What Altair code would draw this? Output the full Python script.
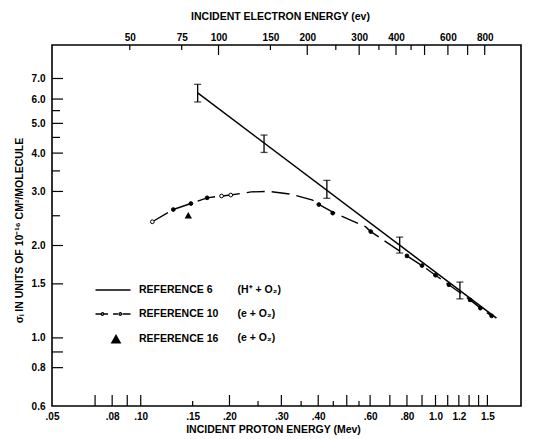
import altair as alt
import pandas as pd

# ---------------- data ----------------
# Reference 6 (H+ + O2): measured points with error bars, and fitted straight line
ref6_energy = [0.156, 0.262, 0.428, 0.756, 1.21]
ref6_sigma = [6.28, 4.31, 3.05, 2.01, 1.43]
ref6_low = [5.87, 4.02, 2.85, 1.89, 1.34]
ref6_high = [6.70, 4.58, 3.26, 2.13, 1.52]
ref6_line_energy = [0.156, 1.61]
ref6_line_sigma = [6.28, 1.16]

# Reference 10 (e + O2): dashed curve and its plotted points
ref10_curve_energy = [0.1095, 0.129, 0.148, 0.168, 0.188, 0.202, 0.237, 0.273, 0.324,
                      0.383, 0.402, 0.448, 0.58, 0.603, 0.80, 0.90, 1.0, 1.11, 1.31, 1.42, 1.55]
ref10_curve_sigma = [2.39, 2.62, 2.74, 2.86, 2.90, 2.92, 2.99, 3.00, 2.94,
                     2.81, 2.72, 2.57, 2.30, 2.22, 1.85, 1.72, 1.60, 1.49, 1.33, 1.25, 1.18]
ref10_pt_energy = [0.1095, 0.129, 0.148, 0.168, 0.188, 0.202, 0.402, 0.448, 0.603,
                   0.80, 0.90, 1.0, 1.11, 1.31, 1.42, 1.55]
ref10_pt_sigma = [2.39, 2.62, 2.74, 2.86, 2.90, 2.92, 2.72, 2.55, 2.22,
                  1.85, 1.72, 1.60, 1.49, 1.33, 1.25, 1.18]
ref10_pt_open = [True, False, False, False, True, True, False, False, False,
                 False, False, False, False, False, False, False]

# Reference 16 (e + O2)
ref16_energy = [0.145]
ref16_sigma = [2.51]

# axes
x_labels = [0.05, 0.08, 0.10, 0.15, 0.20, 0.30, 0.40, 0.60, 0.80, 1.0, 1.2, 1.5]
x_long_ticks = [0.07, 0.08, 0.09, 0.10, 0.20, 0.30, 0.40, 0.50, 0.60, 0.70, 0.80, 0.90,
                1.0, 1.1, 1.2, 1.3, 1.4, 1.5]
x_short_ticks = [0.15, 0.25, 0.35, 0.45, 0.55]
top_labels = [50, 75, 100, 150, 200, 300, 400, 600, 800]
top_long_ticks = [100, 200, 300, 400, 500, 600, 700, 800]
top_short_ticks = [50, 75, 150, 250, 350, 450]
y_labels = [0.6, 0.8, 1.0, 1.5, 2.0, 3.0, 4.0, 5.0, 6.0, 7.0]
y_long_ticks = [0.8, 0.9, 1.0, 1.5, 2.0, 3.0, 4.0, 5.0, 6.0, 7.0]
y_short_ticks = [2.5, 3.5, 4.5, 5.5]

legend_refs = ["REFERENCE 6", "REFERENCE 10", "REFERENCE 16"]
legend_keys = ["a", "b", "c"]
legend_rxns = ["(H\u207a + O\u2082)", "(e + O\u2082)", "(e + O\u2082)"]

PROTON_ELECTRON_MASS_RATIO = 1836.0

# ---------------- chart ----------------
W, H = 469, 361
FONT = "Liberation Sans"
xdom = [0.05, 1.95]
ys = alt.Scale(type="log", domain=[0.6, 9.0])
y_axis = alt.Axis(
    values=y_labels, format=".1f", orient="left",
    title="\u03c3\u1d62 IN UNITS OF 10\u207b\u00b9\u2076 CM\u00b2/MOLECULE",
    labelPadding=7, titlePadding=7, titleY=185,
    labelFlush=False, labelOverlap=False)


def Y(field):
    return alt.Y(field, scale=ys, axis=y_axis)


def xs():
    return alt.Scale(type="log", domain=xdom)


def xe():
    return alt.Scale(type="log", domain=[d * 1e6 / PROTON_ELECTRON_MASS_RATIO for d in xdom])


def vals(v):
    return pd.DataFrame({"v": v})


x_lab_expr = ("datum.value < 0.995 ? slice(format(datum.value, '.2f'), 1) "
              ": format(datum.value, '.1f')")

bottom_long = alt.Chart(vals(x_long_ticks)).mark_rule(color="black", strokeWidth=1.2).encode(
    x=alt.X("v:Q", scale=xs(), axis=alt.Axis(
        values=x_labels, labelExpr=x_lab_expr, title="INCIDENT PROTON ENERGY (Mev)",
        orient="bottom", labelPadding=5, titlePadding=3, titleX=221,
        labelFlush=False, labelOverlap=False)),
    y=alt.value(H), y2=alt.value(H - 11))
bottom_short = alt.Chart(vals(x_short_ticks)).mark_rule(color="black", strokeWidth=1.2).encode(
    x=alt.X("v:Q", scale=xs(), axis=None), y=alt.value(H), y2=alt.value(H - 5))

left_long = alt.Chart(vals(y_long_ticks)).mark_rule(color="black", strokeWidth=1.2).encode(
    y=Y("v:Q"), x=alt.value(0), x2=alt.value(11))
left_short = alt.Chart(vals(y_short_ticks)).mark_rule(color="black", strokeWidth=1.2).encode(
    y=Y("v:Q"), x=alt.value(0), x2=alt.value(8))

ref6_line_df = pd.DataFrame({"E": ref6_line_energy, "s": ref6_line_sigma})
ref6_df = pd.DataFrame({"E": ref6_energy, "s": ref6_sigma, "lo": ref6_low, "hi": ref6_high})
caps_df = pd.DataFrame({"E": ref6_energy + ref6_energy, "s": ref6_low + ref6_high})

ref6_line = alt.Chart(ref6_line_df).mark_line(color="black", strokeWidth=1.5).encode(
    x=alt.X("E:Q", scale=xs(), axis=None), y=Y("s:Q"))
ref6_bars = alt.Chart(ref6_df).mark_rule(color="black", strokeWidth=1.3).encode(
    x=alt.X("E:Q", scale=xs(), axis=None), y=Y("lo:Q"), y2="hi:Q")
ref6_caps = alt.Chart(caps_df).mark_tick(color="black", orient="horizontal", size=7,
                                         thickness=1.3).encode(
    x=alt.X("E:Q", scale=xs(), axis=None), y=Y("s:Q"))

ref10_curve_df = pd.DataFrame({"E": ref10_curve_energy, "s": ref10_curve_sigma})
ref10_pt_df = pd.DataFrame({"E": ref10_pt_energy, "s": ref10_pt_sigma, "open": ref10_pt_open})
ref10_line = alt.Chart(ref10_curve_df).mark_line(color="black", strokeWidth=1.4,
                                                 strokeDash=[18, 7]).encode(
    x=alt.X("E:Q", scale=xs(), axis=None), y=Y("s:Q"))
ref10_pts = alt.Chart(ref10_pt_df).mark_point(shape="circle", filled=True, stroke="black",
                                              strokeWidth=1, size=14, opacity=1).encode(
    x=alt.X("E:Q", scale=xs(), axis=None), y=Y("s:Q"),
    fill=alt.condition("datum.open", alt.value("white"), alt.value("black")))

ref16_df = pd.DataFrame({"E": ref16_energy, "s": ref16_sigma})
ref16_pts = alt.Chart(ref16_df).mark_point(shape="triangle-up", filled=True, color="black",
                                           size=55, opacity=1).encode(
    x=alt.X("E:Q", scale=xs(), axis=None), y=Y("s:Q"))

# legend (real Vega-Lite legends, with custom stroked symbol paths)
sym_line = "M-3.5,0H3.5"
sym_dash = ("M-3.5,0H-2.4M-1.8,0H-1M0,0H1M1.9,0H3.5"
            "M-1.85,0A0.25,0.25,0,1,1,-2.35,0A0.25,0.25,0,1,1,-1.85,0"
            "M1.7,0A0.25,0.25,0,1,1,1.2,0A0.25,0.25,0,1,1,1.7,0")
sym_tri = ("M0.6,-0.75L1.45,0.75L-0.25,0.75Z"
           "M0.49,-0.55H0.71M0.35,-0.3H0.85M0.2,-0.05H1.0M0.06,0.2H1.14"
           "M-0.08,0.45H1.28M-0.22,0.7H1.42")
leg_df = pd.DataFrame({"ref": legend_refs, "key": legend_keys})
rxn_expr = ("datum.label == 'a' ? '" + legend_rxns[0] + "' : datum.label == 'b' ? '"
            + legend_rxns[1] + "' : '" + legend_rxns[2] + "'")
legend_layer = alt.Chart(leg_df).transform_filter("false").mark_point(
    filled=False, color="black", strokeWidth=1.3, opacity=1).encode(
    shape=alt.Shape("ref:N", scale=alt.Scale(domain=legend_refs,
                                             range=[sym_line, sym_dash, sym_tri]),
                    legend=alt.Legend(title=None, orient="none", legendX=55, legendY=239,
                                      symbolSize=100, labelOffset=20, rowPadding=12,
                                      symbolStrokeWidth=1.3, symbolStrokeColor="black",
                                      symbolOpacity=1, labelFont=FONT,
                                      labelFontWeight="bold", labelFontSize=10.5,
                                      labelColor="black")))
legend_layer2 = alt.Chart(leg_df).transform_filter("false").mark_point(
    opacity=0, strokeWidth=0, size=0).encode(
    strokeDash=alt.StrokeDash("key:N", scale=alt.Scale(domain=legend_keys),
                              legend=alt.Legend(title=None, orient="none", legendX=171,
                                                legendY=240, symbolSize=100, labelOffset=4,
                                                rowPadding=13, symbolOpacity=0,
                                                symbolStrokeWidth=0,
                                                labelExpr=rxn_expr, labelFont=FONT,
                                                labelFontWeight="bold", labelFontSize=10.5,
                                                labelColor="black")))

top_long = alt.Chart(vals(top_long_ticks)).mark_rule(color="black", strokeWidth=1.2).encode(
    x=alt.X("v:Q", scale=xe(), axis=alt.Axis(
        values=top_labels, format="d", title="INCIDENT ELECTRON ENERGY (ev)",
        orient="top", labelPadding=3, titlePadding=11, titleX=228,
        labelFlush=False, labelOverlap=False)),
    y=alt.value(0), y2=alt.value(10))
top_short = alt.Chart(vals(top_short_ticks)).mark_rule(color="black", strokeWidth=1.2).encode(
    x=alt.X("v:Q", scale=xe(), axis=None), y=alt.value(0), y2=alt.value(5))

chart = alt.layer(
    ref6_line, bottom_long, bottom_short, left_long, left_short, ref6_bars, ref6_caps,
    ref10_line, ref10_pts, ref16_pts, legend_layer, legend_layer2, top_long, top_short,
).resolve_scale(x="independent").properties(
    width=W, height=H,
    background="white",
    autosize=alt.AutoSizeParams(type="none"),
    padding={"left": 44, "top": 37, "right": 8, "bottom": 31},
).configure_view(stroke="black", strokeWidth=1.6).configure_axis(
    domain=False, ticks=False, tickSize=0, grid=False,
    labelFont=FONT, labelFontWeight="bold", labelFontSize=10, labelColor="black",
    titleFont=FONT, titleFontWeight="bold", titleFontSize=10.5, titleColor="black",
)

chart.save("out.html", embed_options={"renderer": "svg", "actions": False})
